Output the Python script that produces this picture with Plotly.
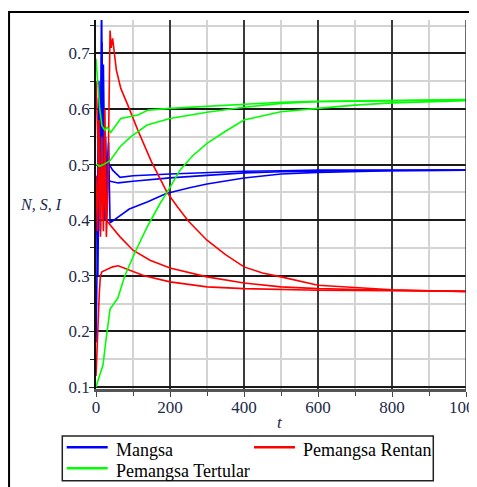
import plotly.graph_objects as go

# ---- data ----
mangsa_a_t = [0, 3, 7, 11, 15, 18, 22, 26, 30, 33, 36, 45, 65, 100, 200, 300, 400, 500, 600, 800, 1000]
mangsa_a_v = [0.18, 0.32, 0.62, 0.45, 0.80, 0.55, 0.40, 0.55, 0.44, 0.50, 0.50, 0.49, 0.477, 0.480, 0.483, 0.486, 0.488, 0.489, 0.49, 0.49, 0.49]
mangsa_b_t = [0, 4, 8, 12, 16, 20, 24, 28, 32, 38, 60, 100, 200, 300, 400, 500, 700, 1000]
mangsa_b_v = [0.48, 0.40, 0.65, 0.38, 0.72, 0.40, 0.55, 0.42, 0.47, 0.47, 0.467, 0.470, 0.476, 0.481, 0.485, 0.487, 0.489, 0.49]
mangsa_c_t = [0, 5, 10, 15, 20, 25, 30, 34, 38, 60, 90, 140, 190, 250, 300, 400, 500, 600, 700, 800, 1000]
mangsa_c_v = [0.45, 0.30, 0.60, 0.43, 0.68, 0.40, 0.50, 0.54, 0.395, 0.405, 0.42, 0.433, 0.448, 0.458, 0.465, 0.476, 0.483, 0.486, 0.488, 0.489, 0.49]

rentan_a_t = [0, 4, 8, 12, 16, 20, 24, 28, 32, 36, 38, 41, 45, 55, 67, 86, 113, 150, 192, 220, 250, 300, 350, 400, 450, 500, 600, 700, 800, 900, 1000]
rentan_a_v = [0.65, 0.57, 0.46, 0.40, 0.55, 0.38, 0.60, 0.37, 0.45, 0.73, 0.741, 0.71, 0.727, 0.67, 0.637, 0.607, 0.562, 0.505, 0.45, 0.424, 0.398, 0.364, 0.338, 0.316, 0.305, 0.298, 0.283, 0.279, 0.275, 0.273, 0.272]
rentan_b_t = [0, 4, 8, 12, 16, 19, 24, 28, 40, 65, 100, 146, 200, 300, 400, 500, 600, 700, 800, 1000]
rentan_b_v = [0.48, 0.38, 0.58, 0.37, 0.52, 0.40, 0.47, 0.40, 0.39, 0.37, 0.346, 0.328, 0.314, 0.298, 0.287, 0.28, 0.277, 0.275, 0.274, 0.272]
rentan_c_t = [0, 3, 6, 9, 12, 16, 30, 45, 60, 92, 130, 200, 300, 400, 500, 600, 800, 1000]
rentan_c_v = [0.12, 0.16, 0.22, 0.27, 0.30, 0.307, 0.312, 0.316, 0.318, 0.31, 0.30, 0.289, 0.28, 0.277, 0.275, 0.274, 0.273, 0.272]

tertular_a_t = [0, 3, 6, 10, 16, 24, 30, 40, 50, 60, 67, 113, 141, 200, 300, 400, 500, 600, 700, 800, 1000]
tertular_a_v = [0.69, 0.66, 0.64, 0.60, 0.57, 0.562, 0.567, 0.558, 0.567, 0.576, 0.583, 0.589, 0.598, 0.601, 0.605, 0.608, 0.612, 0.614, 0.615, 0.616, 0.617]
tertular_b_t = [0, 3, 10, 20, 38, 65, 92, 138, 200, 300, 400, 500, 600, 700, 800, 1000]
tertular_b_v = [0.50, 0.50, 0.497, 0.50, 0.507, 0.532, 0.549, 0.571, 0.583, 0.594, 0.603, 0.61, 0.613, 0.614, 0.615, 0.616]
tertular_c_t = [0, 10, 19, 27, 38, 59, 78, 108, 140, 173, 192, 227, 260, 300, 350, 400, 450, 500, 600, 700, 800, 900, 1000]
tertular_c_v = [0.10, 0.12, 0.14, 0.185, 0.24, 0.26, 0.30, 0.346, 0.39, 0.43, 0.45, 0.49, 0.515, 0.538, 0.56, 0.58, 0.588, 0.595, 0.601, 0.607, 0.611, 0.613, 0.615]

x_ticks = [0, 200, 400, 600, 800, 1000]
y_ticks = [0.1, 0.2, 0.3, 0.4, 0.5, 0.6, 0.7]
legend_names = ["Mangsa", "Pemangsa Rentan", "Pemangsa Tertular"]

BLUE, RED, GREEN = "#0000FF", "#FF0000", "#00FF00"
SERIF = "Liberation Serif"
TICKCOL = "#1c2a4c"

groups = [
    (legend_names[0], BLUE, [(mangsa_a_t, mangsa_a_v), (mangsa_b_t, mangsa_b_v), (mangsa_c_t, mangsa_c_v)]),
    (legend_names[1], RED, [(rentan_a_t, rentan_a_v), (rentan_b_t, rentan_b_v), (rentan_c_t, rentan_c_v)]),
    (legend_names[2], GREEN, [(tertular_a_t, tertular_a_v), (tertular_b_t, tertular_b_v), (tertular_c_t, tertular_c_v)]),
]

fig = go.Figure()
for name, color, trajs in groups:
    for i, (tt, vv) in enumerate(trajs):
        fig.add_trace(go.Scatter(
            x=tt, y=vv, mode="lines", name=name, legendgroup=name,
            showlegend=False, line=dict(color=color, width=1.6),
        ))

# page body has an 8px margin: figure is 8px smaller and margins shifted accordingly
fig.update_layout(
    width=469, height=479,
    margin=dict(l=88, r=11, t=12, b=98, autoexpand=False),
    paper_bgcolor="white", plot_bgcolor="white",
    font=dict(family=SERIF, size=14, color=TICKCOL),
    showlegend=False,
    xaxis=dict(
        range=[0, 1000], tickvals=x_ticks, ticktext=[str(v) for v in x_ticks],
        automargin=False, ticklabeloverflow="allow", ticklabelstandoff=-4,
        showgrid=True, gridcolor="#3a3a3a", gridwidth=1.5,
        minor=dict(dtick=100, showgrid=True, gridcolor="#d3d3d3", gridwidth=1.5,
                   ticks="outside", ticklen=4, tickcolor="#444"),
        ticks="outside", ticklen=5, tickcolor="#444",
        showline=True, linecolor="#555", linewidth=2.5,
        zeroline=False, tickfont=dict(family=SERIF, size=17, color=TICKCOL),
    ),
    yaxis=dict(
        range=[0.0964, 0.76], tickvals=y_ticks, ticktext=[f"{v:.1f}" for v in y_ticks],
        automargin=False, ticklabelstandoff=-4,
        showgrid=True, gridcolor="#1a1a1a", gridwidth=1.5,
        minor=dict(dtick=0.05, tick0=0.05, showgrid=True, gridcolor="#d3d3d3", gridwidth=1.5,
                   ticks="outside", ticklen=4, tickcolor="#222"),
        ticks="outside", ticklen=5, tickcolor="#222",
        showline=True, linecolor="#111", linewidth=1.5,
        zeroline=False, tickfont=dict(family=SERIF, size=17, color=TICKCOL),
    ),
)

# right border grid line at t=1000
fig.add_shape(type="line", xref="x", yref="paper", x0=1000, x1=1000, y0=0, y1=1,
              line=dict(color="#3a3a3a", width=1.5))

# outer frame
fig.add_shape(type="rect", xref="paper", yref="paper", x0=-0.235, x1=1.3, y0=-0.4, y1=1.0217,
              line=dict(color="black", width=2), layer="below")

fig.add_annotation(text="<i>N, S, I</i>", xref="paper", yref="paper", x=-0.149, y=0.50,
                   xanchor="center", yanchor="middle", showarrow=False,
                   font=dict(family=SERIF, size=16, color=TICKCOL))
fig.add_annotation(text="<i>t</i>", xref="paper", yref="paper", x=0.497, y=-0.09,
                   xanchor="center", yanchor="middle", showarrow=False,
                   font=dict(family=SERIF, size=17, color=TICKCOL))

# legend box (drawn to match the reference's compact two-column layout)
fig.add_shape(type="rect", xref="paper", yref="paper", x0=-0.0911, x1=0.9116,
              y0=-0.2485, y1=-0.1274, line=dict(color="#222", width=1.5),
              fillcolor="white", layer="above")
legend_slots = [
    (legend_names[0], BLUE, -0.0792, -0.158),
    (legend_names[1], RED, 0.427, -0.158),
    (legend_names[2], GREEN, -0.0792, -0.2149),
]
for name, color, lx, ly in legend_slots:
    fig.add_shape(type="line", xref="paper", yref="paper", x0=lx, x1=lx + 0.1108,
                  y0=ly, y1=ly, line=dict(color=color, width=2.5), layer="above")
    fig.add_annotation(text=name, xref="paper", yref="paper", x=lx + 0.1278, y=ly - 0.006,
                       xanchor="left", yanchor="middle", showarrow=False,
                       font=dict(family=SERIF, size=18, color="black"))

fig.write_html("out.html")
